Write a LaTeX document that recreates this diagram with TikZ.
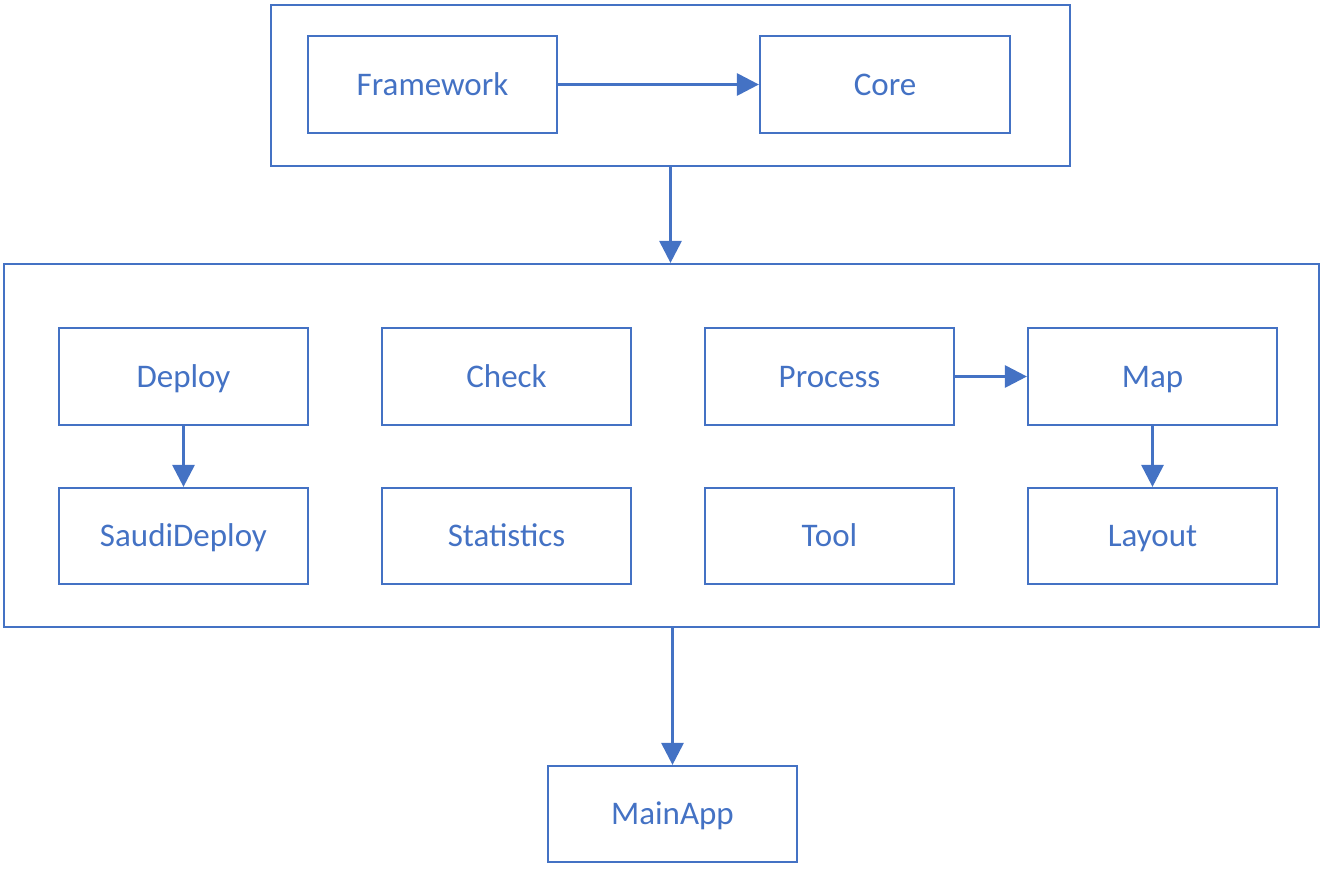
\documentclass[tikz,border=0pt]{standalone}
\usepackage{fontspec}
\setmainfont{Carlito}
\usetikzlibrary{arrows.meta}
\definecolor{ublue}{HTML}{4472C4}
\begin{document}
\begin{tikzpicture}[x=1pt,y=-1pt,
  modbox/.style={draw=ublue,line width=2.2pt,minimum width=249pt,minimum height=97pt,inner sep=0pt,text=ublue,font=\fontsize{33}{38}\selectfont,text height=21pt,text depth=0pt},
  groupbox/.style={draw=ublue,line width=2.2pt,inner sep=0pt},
  link/.style={draw=ublue,line width=3pt,-{Triangle[length=22pt,width=22pt]}}]
\useasboundingbox (0,0) rectangle (1324,871);
% top group
\node[groupbox,minimum width=799pt,minimum height=161pt] (top) at (670.5,85.5) {};
\node[modbox] (fw) at (432.5,84.5) {Framework};
\node[modbox,minimum width=250pt] (core) at (885,84.5) {Core};
% middle group
\node[groupbox,minimum width=1315pt,minimum height=363pt] (mid) at (661.5,445.5) {};
\node[modbox] (deploy) at (183.5,376.5) {Deploy};
\node[modbox] (check) at (506.5,376.5) {Check};
\node[modbox] (process) at (829.5,376.5) {Process};
\node[modbox] (map) at (1152.5,376.5) {Map};
\node[modbox,minimum height=96pt] (saudi) at (183.5,536) {SaudiDeploy};
\node[modbox,minimum height=96pt] (stat) at (506.5,536) {Statistics};
\node[modbox,minimum height=96pt] (tool) at (829.5,536) {Tool};
\node[modbox,minimum height=96pt] (layout) at (1152.5,536) {Layout};
% bottom
\node[modbox,minimum height=96pt] (main) at (672.5,814) {MainApp};
% connectors
\draw[link] (fw.east) -- (core.west);
\draw[link] (top.south) -- (top.south |- mid.north);
\draw[link] (deploy.south) -- (saudi.north);
\draw[link] (process.east) -- (map.west);
\draw[link] (map.south) -- (layout.north);
\draw[link] (main.north |- mid.south) -- (main.north);
\end{tikzpicture}
\end{document}
